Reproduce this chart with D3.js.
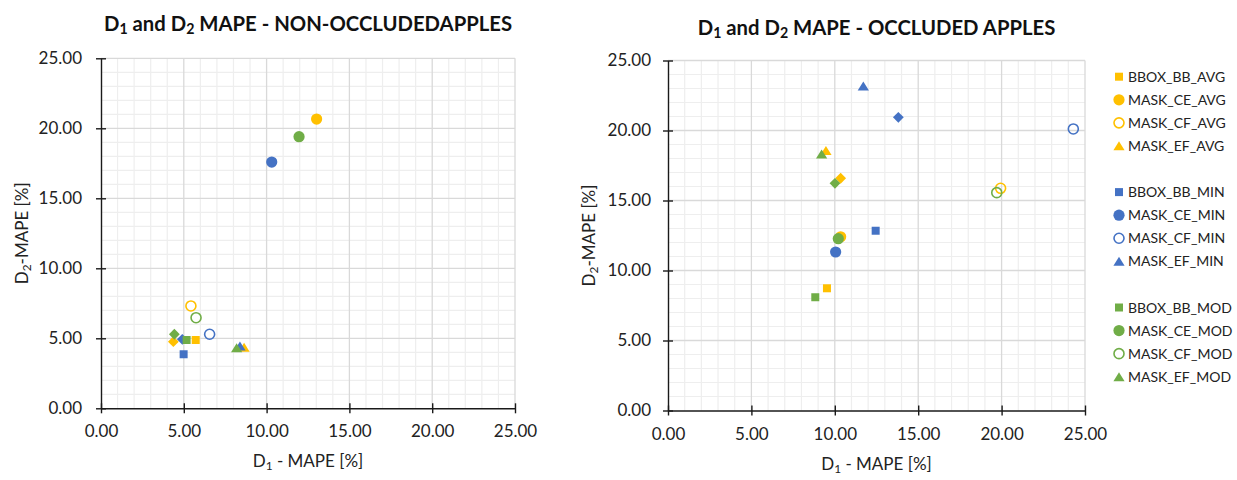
<!DOCTYPE html>
<html>
<head>
<meta charset="utf-8">
<script src="https://cdn.jsdelivr.net/npm/d3@7"></script>
<style>
  html, body { margin: 0; padding: 0; background: #fff; }
  svg { display: block; font-family: Lato, "Open Sans", sans-serif; }
</style>
</head>
<body>
<svg id="chart" width="1237" height="480"></svg>
<script>
// Series, in drawing order. Blank names are the diamond series that have no legend entry.
const seriesNames = [
  "BBOX_BB_AVG", "MASK_CE_AVG", "MASK_CF_AVG", "MASK_EF_AVG", "",
  "BBOX_BB_MIN", "MASK_CE_MIN", "MASK_CF_MIN", "MASK_EF_MIN", "",
  "BBOX_BB_MOD", "MASK_CE_MOD", "MASK_CF_MOD", "MASK_EF_MOD", ""
];
const seriesGroups = ["AVG", "AVG", "AVG", "AVG", "AVG", "MIN", "MIN", "MIN", "MIN", "MIN", "MOD", "MOD", "MOD", "MOD", "MOD"];
const seriesSymbols = [
  "square", "circle", "ring", "triangle", "diamond",
  "square", "circle", "ring", "triangle", "diamond",
  "square", "circle", "ring", "triangle", "diamond"
];

// D1 / D2 MAPE [%] for non-occluded apples
const nonOccludedD1 = [5.72, 13.02, 5.43, 8.64, 4.37, 4.99, 10.31, 6.56, 8.39, 4.91, 5.17, 11.96, 5.74, 8.19, 4.43];
const nonOccludedD2 = [4.88, 20.66, 7.31, 4.36, 4.76, 3.86, 17.59, 5.29, 4.45, 4.93, 4.88, 19.40, 6.47, 4.31, 5.29];

// D1 / D2 MAPE [%] for occluded apples
const occludedD1 = [9.53, 10.35, 19.94, 9.47, 10.35, 12.45, 10.05, 24.30, 11.71, 13.81, 8.83, 10.21, 19.71, 9.21, 10.01];
const occludedD2 = [8.73, 12.41, 15.87, 18.56, 16.59, 12.84, 11.32, 20.11, 23.18, 20.94, 8.09, 12.27, 15.56, 18.32, 16.23];

const axisTicks = [0, 5, 10, 15, 20, 25];
const minorTicks = d3.range(0, 26, 1);

const groupColors = { AVG: "#FFC000", MIN: "#4472C4", MOD: "#70AD47" };

const svg = d3.select("#chart");

// Marker shapes centred on their bounding box
function markerPath(type) {
  switch (type) {
    case "square": return "M-4,-4H4V4H-4Z";
    case "triangle": return "M0,-4.6L5.6,4.4H-5.6Z";
    case "diamond": return "M0,-5.4L5.4,0L0,5.4L-5.4,0Z";
    default: return null;
  }
}

function drawMarker(g, type, color, x, y) {
  if (type === "circle") {
    g.append("circle").attr("cx", x).attr("cy", y).attr("r", 5.6).attr("fill", color);
  } else if (type === "ring") {
    g.append("circle").attr("cx", x).attr("cy", y).attr("r", 5)
      .attr("fill", "none").attr("stroke", color).attr("stroke-width", 1.6);
  } else {
    g.append("path").attr("d", markerPath(type))
      .attr("transform", `translate(${x},${y})`).attr("fill", color);
  }
}

// Text with subscript digits (D₁, D₂)
function subText(sel, parts) {
  parts.forEach(([txt, sub]) => {
    const ts = sel.append("tspan").text(txt);
    if (sub) ts.attr("font-size", "0.7em").attr("baseline-shift", "-22%");
  });
}

function drawPanel(cfg, xs, ys) {
  const x = d3.scaleLinear().domain([0, 25]).range([cfg.left, cfg.right]);
  const y = d3.scaleLinear().domain([0, 25]).range([cfg.bottom, cfg.top]);
  const g = svg.append("g");

  // minor grid
  const minor = minorTicks.filter(d => d % 5 !== 0);
  g.append("g").selectAll("line").data(minor).join("line")
    .attr("x1", d => x(d)).attr("x2", d => x(d)).attr("y1", y(0)).attr("y2", y(25))
    .attr("stroke", "#eeeeee").attr("stroke-width", 1.2);
  g.append("g").selectAll("line").data(minor).join("line")
    .attr("y1", d => y(d)).attr("y2", d => y(d)).attr("x1", x(0)).attr("x2", x(25))
    .attr("stroke", "#eeeeee").attr("stroke-width", 1.2);
  // major grid
  g.append("g").selectAll("line").data(axisTicks.slice(1)).join("line")
    .attr("x1", d => x(d)).attr("x2", d => x(d)).attr("y1", y(0)).attr("y2", y(25))
    .attr("stroke", "#d9d9d9").attr("stroke-width", 1.3);
  g.append("g").selectAll("line").data(axisTicks.slice(1)).join("line")
    .attr("y1", d => y(d)).attr("y2", d => y(d)).attr("x1", x(0)).attr("x2", x(25))
    .attr("stroke", "#d9d9d9").attr("stroke-width", 1.3);

  // axes with ticks crossing the line
  const xAxis = d3.axisBottom(x).tickValues(axisTicks).tickFormat(d3.format(".2f"))
    .tickSizeInner(5).tickSizeOuter(0).tickPadding(12);
  const gx = g.append("g").attr("transform", `translate(0,${cfg.bottom})`).call(xAxis);
  gx.selectAll(".tick line").attr("y1", -5).attr("y2", 5);
  const yAxis = d3.axisLeft(y).tickValues(axisTicks).tickFormat(d3.format(".2f"))
    .tickSizeInner(5).tickSizeOuter(0).tickPadding(cfg.yPad);
  const gy = g.append("g").attr("transform", `translate(${cfg.left},0)`).call(yAxis);
  gy.selectAll(".tick line").attr("x1", -5).attr("x2", 5);
  [gx, gy].forEach(a => {
    a.select(".domain").attr("stroke", "#1a1a1a").attr("stroke-width", 1.4);
    a.selectAll(".tick line").attr("stroke", "#1a1a1a").attr("stroke-width", 1.4);
    a.selectAll(".tick text").attr("fill", "#222").attr("font-size", 17)
      .attr("font-family", "Lato, 'Open Sans', sans-serif");
  });

  // points
  const pts = g.append("g");
  xs.forEach((v, i) => {
    drawMarker(pts, seriesSymbols[i], groupColors[seriesGroups[i]], x(v), y(ys[i]));
  });

  // title
  const t = g.append("text").attr("x", (cfg.left + cfg.right) / 2).attr("y", cfg.titleY)
    .attr("text-anchor", "middle").attr("font-weight", "bold").attr("font-size", 20.3)
    .attr("fill", "#111");
  subText(t, [["D"], ["1", true], [" and D"], ["2", true], [" MAPE - " + cfg.title]]);

  // axis titles
  const xt = g.append("text").attr("x", (cfg.left + cfg.right) / 2).attr("y", cfg.bottom + 59)
    .attr("text-anchor", "middle").attr("font-size", 17).attr("fill", "#222");
  subText(xt, [["D"], ["1", true], [" - MAPE [%]"]]);
  const yt = g.append("text")
    .attr("transform", `translate(${cfg.left - 73},${(cfg.top + cfg.bottom) / 2}) rotate(-90)`)
    .attr("text-anchor", "middle").attr("font-size", 17).attr("fill", "#222");
  subText(yt, [["D"], ["2", true], ["-MAPE [%]"]]);
}

drawPanel({ left: 101, right: 515, top: 58.3, bottom: 408.3, titleY: 31, yPad: 14,
  title: "NON-OCCLUDEDAPPLES" }, nonOccludedD1, nonOccludedD2);
drawPanel({ left: 668, right: 1085, top: 60.5, bottom: 410.5, titleY: 35, yPad: 12,
  title: "OCCLUDED APPLES" }, occludedD1, occludedD2);

// legend
const legend = svg.append("g").attr("font-size", 14).attr("fill", "#222");
seriesNames.forEach((name, i) => {
  if (!name) return;
  const cy = 76.7 + i * 23.08;
  drawMarker(legend, seriesSymbols[i], groupColors[seriesGroups[i]], 1119, cy);
  legend.append("text").attr("x", 1128).attr("y", cy).attr("dy", "0.36em").text(name);
});
</script>
</body>
</html>
